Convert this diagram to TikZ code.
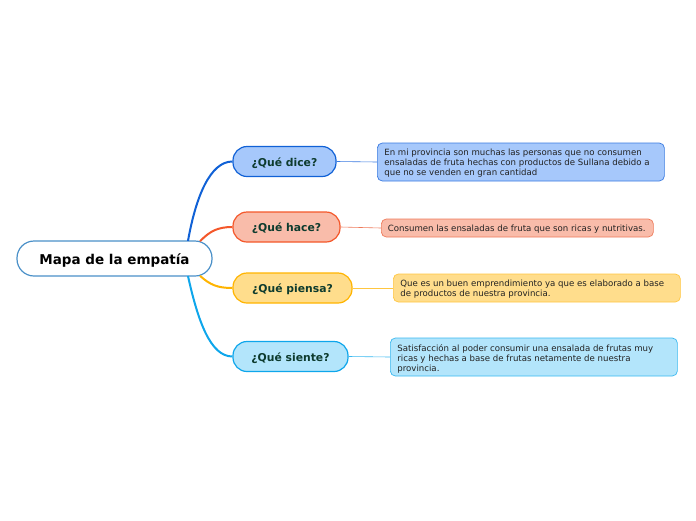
\documentclass[tikz,border=0pt]{standalone}
\usepackage{fontspec}
\setmainfont{DejaVu Sans}
\usetikzlibrary{calc}
\definecolor{rootb}{HTML}{4A90C8}
\definecolor{txt}{HTML}{0D3B2E}
\definecolor{leaftxt}{HTML}{222222}
\definecolor{dicef}{HTML}{A6C8FB}\definecolor{diceb}{HTML}{1061D6}\definecolor{dicel}{HTML}{3A7AE0}
\definecolor{hacef}{HTML}{F9BCAA}\definecolor{haceb}{HTML}{F4572A}\definecolor{hacel}{HTML}{EE7A5A}
\definecolor{piensaf}{HTML}{FFDD8C}\definecolor{piensab}{HTML}{FFB400}\definecolor{piensal}{HTML}{FFC640}
\definecolor{sientef}{HTML}{B3E5FB}\definecolor{sienteb}{HTML}{0EA6EB}\definecolor{sientel}{HTML}{38B8F0}
\newcommand{\lowline}[1]{\raisebox{-1.5pt}[\height][\depth]{#1}}
\newcommand{\lowpar}[2]{\raisebox{-1.5pt}[\height][\depth]{\parbox[c]{#1}{\raggedright #2}}}
\tikzset{
  rootbox/.style={draw=rootb, line width=1.2pt, fill=white, rounded corners=17pt, minimum width=195pt, minimum height=35pt, inner sep=0pt, font=\fontsize{13.5}{16}\selectfont\bfseries, text=black},
  branchbox/.style={line width=1.2pt, rounded corners=14pt, minimum height=30pt, inner sep=0pt, font=\fontsize{10.8}{13}\selectfont\bfseries, text=txt},
  leafbox/.style={line width=0.7pt, rounded corners=5pt, inner xsep=7pt, inner ysep=0pt, font=\fontsize{8.6}{10}\selectfont, text=leaftxt},
  maincon/.style={line width=2pt},
  leafcon/.style={line width=0.6pt}
}
\begin{document}
\begin{tikzpicture}[x=1pt,y=-1pt]
\useasboundingbox (0,0) rectangle (696,520);
\node[rootbox] (root) at (114.5,258.5) {\lowline{Mapa de la empatía}};
\node[branchbox, draw=diceb, fill=dicef, minimum width=103pt] (dice) at (284.5,161.5) {\lowline{¿Qué dice?}};
\node[branchbox, draw=haceb, fill=hacef, minimum width=107pt] (hace) at (286.5,227) {\lowline{¿Qué hace?}};
\node[branchbox, draw=piensab, fill=piensaf, minimum width=119pt] (piensa) at (292.5,288) {\lowline{¿Qué piensa?}};
\node[branchbox, draw=sienteb, fill=sientef, minimum width=115pt] (siente) at (290.5,356.5) {\lowline{¿Qué siente?}};
\node[leafbox, draw=dicel, fill=dicef, minimum height=38pt, anchor=west] (diceleaf) at (377,162) {\lowpar{273pt}{En mi provincia son muchas las personas que no consumen\\ensaladas de fruta hechas con productos de Sullana debido a\\que no se venden en gran cantidad}};
\node[leafbox, draw=hacel, fill=hacef, inner xsep=6.5pt, minimum height=18pt, anchor=west] (haceleaf) at (381,228) {\lowpar{259pt}{\mbox{Consumen las ensaladas de fruta que son ricas y nutritivas.}}};
\node[leafbox, draw=piensal, fill=piensaf, minimum height=28pt, anchor=west] (piensaleaf) at (393,288) {\lowpar{273pt}{Que es un buen emprendimiento ya que es elaborado a base\\de productos de nuestra provincia.}};
\node[leafbox, draw=sientel, fill=sientef, minimum height=38pt, anchor=west] (sienteleaf) at (390,357) {\lowpar{273pt}{Satisfacción al poder consumir una ensalada de frutas muy\\ricas y hechas a base de frutas netamente de nuestra\\provincia.}};
\coordinate (s1) at ($(root.north)+(73.5,0.5)$);
\coordinate (s2) at ($(root.north)+(85.5,0.8)$);
\coordinate (s3) at ($(root.south)+(85.5,-0.8)$);
\coordinate (s4) at ($(root.south)+(73.5,-0.5)$);
\draw[maincon, draw=diceb] (s1) .. controls +(8,-45) and +(-22,0) .. (dice.west);
\draw[maincon, draw=haceb] (s2) .. controls +(10,-10) and +(-15,0) .. (hace.west);
\draw[maincon, draw=piensab] (s3) .. controls +(10,9) and +(-15,0) .. (piensa.west);
\draw[maincon, draw=sienteb] (s4) .. controls +(10,45) and +(-22,0) .. (siente.west);
\draw[leafcon, draw=dicel] (dice.east) -- (diceleaf.west);
\draw[leafcon, draw=hacel] (hace.east) -- (haceleaf.west);
\draw[leafcon, draw=piensal] (piensa.east) -- (piensaleaf.west);
\draw[leafcon, draw=sientel] (siente.east) -- (sienteleaf.west);
\end{tikzpicture}
\end{document}
